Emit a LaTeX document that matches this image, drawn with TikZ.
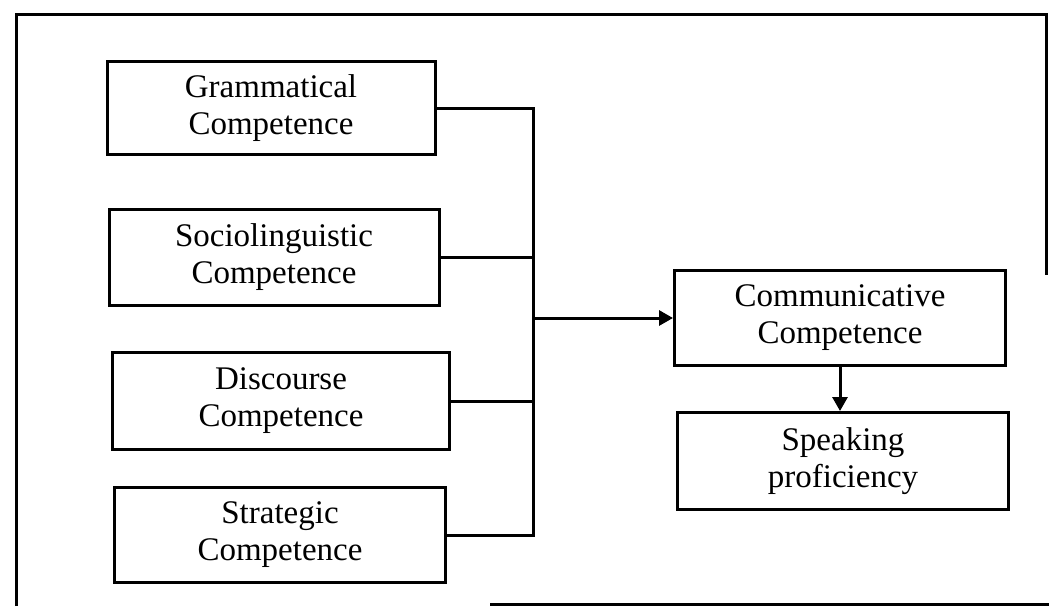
\documentclass[tikz,border=0pt]{standalone}
\usepackage{fontspec}
\setmainfont{Liberation Serif}
\usetikzlibrary{arrows.meta}
\begin{document}
\begin{tikzpicture}[x=1pt,y=-1pt,
  line width=3pt,
  box/.style={draw, line width=3pt, align=center, inner sep=0pt,
    font=\fontsize{33}{37}\selectfont, minimum height=95pt},
  arr/.style={-{Triangle[length=14pt,width=15pt]}},
  frame/.style={line width=3pt}]
\useasboundingbox (0,0) rectangle (1049,606);
% outer frame (partially visible)
\coordinate (fa) at (16,606);
\coordinate (fb) at (16,14);
\coordinate (fc) at (1046,14);
\coordinate (fd) at (1046,275);
\coordinate (fe) at (490,604);
\coordinate (ff) at (1049,604);
\draw[frame] (fa) -- (fb) -- (fc) -- (fd);
\draw[frame] (fe) -- (ff);
% boxes
\node[box, minimum width=328pt, minimum height=93pt] (g) at (271,108) {Grammatical\\Competence};
\node[box, minimum width=330pt, minimum height=96pt] (s) at (274,257) {Sociolinguistic\\Competence};
\node[box, minimum width=337pt, minimum height=97pt] (d) at (281,401) {Discourse\\Competence};
\node[box, minimum width=331pt, minimum height=95pt] (st) at (280,535) {Strategic\\Competence};
\node[box, minimum width=331pt, minimum height=95pt] (comm) at (840,318) {Communicative\\Competence};
\node[box, minimum width=331pt, minimum height=97pt] (sp) at (843,461) {Speaking\\proficiency};
% bus
\coordinate (bus) at (533,0);
\draw (g.east) -- (g.east -| bus) -- (st.east -| bus) -- (st.east);
\draw (s.east) -- (s.east -| bus);
\draw (d.east) -- (d.east -| bus);
\draw[arr] (comm.west -| bus) -- (comm.west);
\draw[arr] (comm.south) -- (comm.south |- sp.north);
\end{tikzpicture}
\end{document}
